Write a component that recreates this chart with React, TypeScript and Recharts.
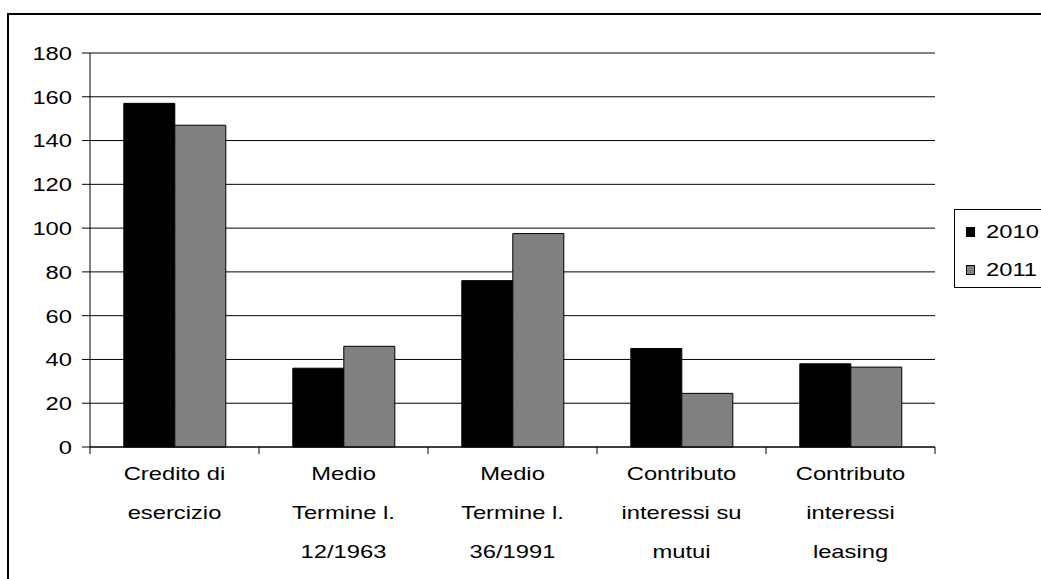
import { BarChart, Bar, XAxis, YAxis, CartesianGrid, Legend } from "recharts";

const categories: string[][] = [
  ["Credito di", "esercizio"],
  ["Medio", "Termine l.", "12/1963"],
  ["Medio", "Termine l.", "36/1991"],
  ["Contributo", "interessi su", "mutui"],
  ["Contributo", "interessi", "leasing"],
];
const values2010 = [157, 36, 76, 45, 38];
const values2011 = [147, 46, 97.5, 24.5, 36.5];
const yTicks = [0, 20, 40, 60, 80, 100, 120, 140, 160, 180];
const seriesNames = ["2010", "2011"];

const data = categories.map((lines, i) => ({
  name: lines.join(" "),
  lines,
  a: values2010[i],
  b: values2011[i],
}));

const W = 1041;
const H = 579;
const LEFT = 90;
const RIGHT = 106;
const BAND = (W - LEFT - RIGHT) / categories.length;
const FONT = "'Liberation Sans', Arial, sans-serif";
const SX = 1.25;

function YTick(props: any) {
  const { x, y, payload } = props;
  return (
    <g transform={`translate(${x},${y}) scale(${SX},1)`}>
      <text textAnchor="end" dy="0.36em" fontSize={19} fontFamily={FONT} fill="#000">
        {payload.value}
      </text>
    </g>
  );
}

function XTick(props: any) {
  const { x, y, index } = props;
  const lines = categories[index] || [];
  return (
    <g>
      <line x1={x - BAND / 2} x2={x - BAND / 2} y1={y} y2={y + 7} stroke="#000" />
      {index === categories.length - 1 && (
        <line x1={x + BAND / 2} x2={x + BAND / 2} y1={y} y2={y + 7} stroke="#000" />
      )}
      <g transform={`translate(${x},${y}) scale(${SX},1)`}>
        {lines.map((l, i) => (
          <text key={i} y={33 + i * 39} textAnchor="middle" fontSize={19} fontFamily={FONT} fill="#000">
            {l}
          </text>
        ))}
      </g>
    </g>
  );
}

function LegendBox() {
  const colors = ["#000000", "#808080"];
  return (
    <div
      style={{
        width: 110,
        height: 79,
        border: "1px solid #000",
        background: "#fff",
        boxSizing: "border-box",
        fontFamily: FONT,
        fontSize: 19,
        position: "relative",
      }}
    >
      {seriesNames.map((n, i) => (
        <div
          key={n}
          style={{ position: "absolute", left: 11, top: 11 + i * 38, display: "flex", alignItems: "center", height: 22 }}
        >
          <span
            style={{
              display: "inline-block",
              width: 9,
              height: 10,
              background: colors[i],
              border: "1px solid #000",
              boxSizing: "border-box",
            }}
          />
          <span style={{ display: "inline-block", marginLeft: 11, transform: `scaleX(${SX})`, transformOrigin: "left center" }}>
            {n}
          </span>
        </div>
      ))}
    </div>
  );
}

export default function App() {
  return (
    <div style={{ position: "absolute", left: 0, top: 0, width: W, height: H, overflow: "hidden", background: "#fff" }}>
      <div
        style={{
          position: "absolute",
          left: 7,
          top: 13,
          width: 1200,
          height: 800,
          border: "2px solid #000",
        }}
      />
      <div style={{ position: "absolute", left: 0, top: 0 }}>
        <BarChart
          width={W}
          height={H}
          data={data}
          margin={{ top: 53, right: RIGHT - 1, bottom: 0, left: 0 }}
          barCategoryGap="20%"
          barGap={0}
        >
          <CartesianGrid vertical={false} stroke="#000" />
          <XAxis
            dataKey="name"
            height={132}
            interval={0}
            tickSize={0}
            tickMargin={0}
            tickLine={false}
            axisLine={{ stroke: "#000" }}
            tick={<XTick />}
          />
          <XAxis xAxisId="top" orientation="top" height={0} tick={false} tickLine={false} axisLine={{ stroke: "#808080" }} />
          <YAxis
            width={LEFT}
            domain={[0, 180]}
            ticks={yTicks}
            interval={0}
            tickSize={8}
            tickMargin={10}
            tickLine={{ stroke: "#000" }}
            axisLine={{ stroke: "#000" }}
            tick={<YTick />}
          />
          <YAxis yAxisId="right" orientation="right" width={0} tick={false} tickLine={false} axisLine={{ stroke: "#808080" }} />
          <Legend
            layout="vertical"
            align="right"
            verticalAlign="top"
            content={<LegendBox />}
            wrapperStyle={{ position: "absolute", left: 954, top: 209, width: 1, height: 1, overflow: "visible" }}
          />
          <Bar dataKey="a" name={seriesNames[0]} fill="#000000" stroke="#000" strokeWidth={1} isAnimationActive={false} />
          <Bar dataKey="b" name={seriesNames[1]} fill="#808080" stroke="#000" strokeWidth={1} isAnimationActive={false} />
        </BarChart>
      </div>
    </div>
  );
}
